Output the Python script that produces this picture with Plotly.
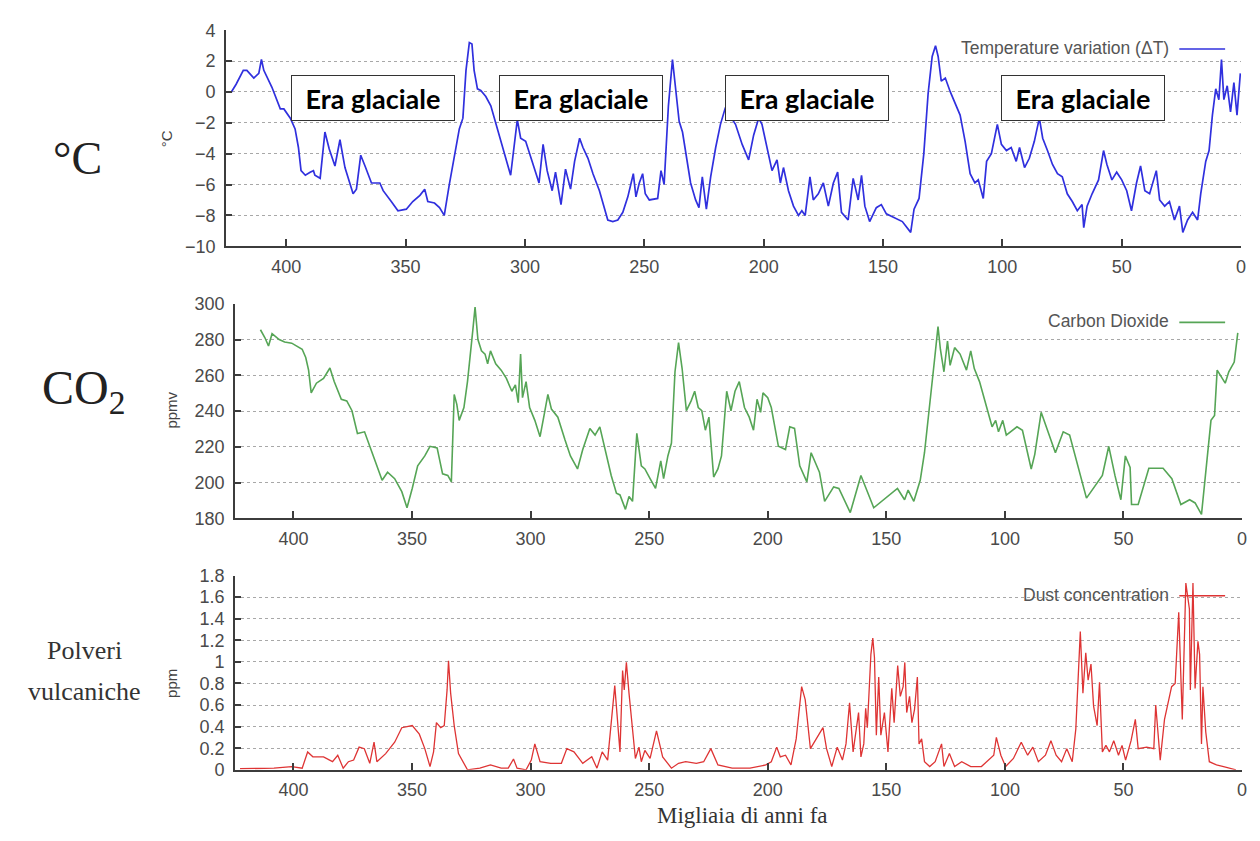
import plotly.graph_objects as go

W, H = 1260, 841

# ---------------- data ----------------
temp_age = [423, 421, 418, 416.5, 413.6, 411.5, 410.4, 409.4, 406, 402.5, 401, 398.3, 396.3, 394.9, 393.8,
            392, 390, 388.6, 388, 385.8, 383.8, 382, 379.6, 377.5, 375.4, 372, 370.6, 368.8, 367, 364.3,
            360.8, 359.4, 356, 353.2, 349.7, 347, 344, 342, 340.7, 337.9, 335.8, 333.8, 331.7, 329.6,
            327.5, 326, 324.7, 323.3, 322.2, 321.3, 319.9, 318.5, 316.4, 314.3, 311.5, 308, 306, 303.2,
            301.8, 299.7, 296.2, 294.1, 292.4, 290.7, 288.6, 287.2, 284.9, 283, 280.9, 279.2, 277.1,
            275.7, 273.6, 271.5, 268.8, 266.7, 265.3, 263.2, 261.1, 259, 256.9, 254.6, 253.5, 252.1,
            250.7, 249.6, 247.9, 244.4, 243, 241.7, 239.9, 238.2, 236.8, 235.4, 234, 232, 230.6, 228.5,
            227.1, 225.7, 224, 222.2, 220.1, 218.1, 216, 213.9, 211.8, 209, 206.3, 204.2, 202.1, 200.7,
            198.6, 196.5, 194.4, 193, 191.7, 189.6, 187.5, 185.4, 184, 182.6, 180.6, 179.2, 177.1, 175,
            172.9, 170.8, 169, 167.4, 164.6, 162.5, 160.4, 159, 157.6, 155.6, 152.8, 150.7, 148.6, 145.8,
            141.9, 138.4, 137, 134.9, 132.9, 131.1, 129.4, 128, 126.9, 125.6, 123.9, 121.8, 119.8, 117.7,
            115.6, 113.5, 111.5, 110.1, 108, 106.6, 104.6, 103.2, 102.1, 100.4, 98.3, 96.3, 94.2, 92.8,
            90.7, 88.7, 86.6, 84.5, 83.1, 81.1, 79, 76.9, 74.9, 72.8, 70.7, 68.6, 66.6, 65.9, 64.5, 62.4,
            59.7, 57.6, 56.2, 54.1, 52.1, 50, 47.9, 45.9, 43.8, 42.1, 40.3, 38.3, 35.5, 34.1, 32, 30,
            27.9, 25.8, 24.4, 22.4, 20.3, 18.2, 16.9, 14.8, 13.4, 12, 10.6, 9.3, 8.2, 7.2, 5.8, 4.4, 3.0,
            1.7, 0.3]
temp_val = [0.0, 0.5, 1.4, 1.4, 0.9, 1.2, 2.1, 1.4, 0.3, -1.1, -1.1, -1.7, -2.4, -3.6, -5.1,
            -5.4, -5.2, -5.1, -5.4, -5.6, -2.6, -3.7, -4.8, -3.1, -4.9, -6.6, -6.3, -4.1, -4.8, -5.9,
            -5.9, -6.4, -7.1, -7.7, -7.6, -7.1, -6.7, -6.3, -7.1, -7.2, -7.5, -8.0, -6.0, -4.3,
            -2.4, -1.7, 1.4, 3.2, 3.1, 1.4, 0.2, 0.1, -0.3, -0.9, -2.4, -4.3, -5.4, -1.8,
            -3.0, -3.2, -4.9, -5.9, -3.4, -5.1, -6.4, -5.2, -7.3, -5.0, -6.3, -4.5, -3.0,
            -3.6, -4.3, -5.3, -6.4, -7.6, -8.3, -8.4, -8.3, -7.8, -6.8, -5.3, -6.8, -5.9,
            -5.3, -6.6, -7.0, -6.9, -5.1, -6.0, -0.9, 2.1, 0.2, -1.9, -2.6, -4.5, -5.9, -7.0,
            -7.5, -5.5, -7.6, -5.5, -3.6, -2.1, -1.0, -1.6, -2.1, -3.4, -4.4, -2.8, -1.7, -2.1,
            -3.6, -5.1, -4.4, -5.9, -4.9, -6.4, -7.4, -8.0, -7.7, -8.0, -5.5, -7.0, -6.6, -5.9,
            -7.4, -5.9, -5.2, -7.8, -8.3, -5.6, -7.0, -5.4, -7.4, -8.4, -7.5, -7.3, -7.9, -8.1,
            -8.4, -9.1, -7.6, -6.9, -4.0, -0.1, 2.3, 3.0, 2.3, 0.7, 0.9, 0.0, -0.7, -1.5,
            -3.2, -5.3, -5.9, -5.7, -6.9, -4.5, -4.0, -2.8, -2.1, -3.4, -3.8, -3.6, -4.5, -3.6,
            -4.9, -4.3, -3.2, -1.7, -3.0, -3.8, -4.7, -5.3, -5.5, -6.6, -7.1, -7.7, -7.3, -8.8, -7.4, -6.6,
            -5.7, -3.8, -4.7, -5.7, -5.2, -5.7, -6.4, -7.7, -5.9, -4.8, -6.4, -6.6, -5.1, -7.0, -7.4, -7.1,
            -8.3, -7.4, -9.1, -8.3, -7.8, -8.3, -6.6, -4.5, -3.8, -1.5, 0.2, -0.5, 2.1, -0.5, 0.4, -1.3, 0.6,
            -1.5, 1.2]

co2_age = [413.9, 412, 410.5, 409, 406, 403.7, 400.7, 398.5, 396.3, 394.8, 393.6, 392.5, 390.3, 387.3,
           384.6, 382.8, 379.8, 377.5, 375.3, 373, 370, 367.8, 364.8, 362.6, 360.3, 357.3, 354.3, 352.1,
           349.9, 347.6, 344.6, 342.4, 339.4, 337.1, 334.9, 333.4, 332.2, 331.1, 330.1, 328.1, 326.6,
           325.1, 324.4, 323.4, 322.2, 320.7, 319.2, 318.1, 316.9, 314.7, 312.4, 310.2, 307.9, 306.4,
           305.2, 304.2, 303.4, 301.9, 300.4, 298.2, 296, 294.2, 292.7, 291.2, 288.5, 285.5, 283.2,
           280.2, 278, 275, 272.8, 270.8, 268.3, 266, 263.8, 262.3, 260, 258.5, 257, 255.2, 253.3,
           251.8, 249.6, 247.3, 245.1, 243.9, 242.1, 240.6, 239.1, 237.6, 236.1, 234.3, 232.3, 230.8,
           229.3, 227.8, 226.3, 224.8, 222.8, 221, 219.5, 217.3, 215.5, 213.8, 212, 209.8, 207.8, 206,
           204.5, 203, 202, 200, 198.5, 195.5, 192.5, 190.7, 188.7, 186.5, 183.5, 181.7, 178.2, 176,
           172.2, 170, 165.2, 160.7, 155.3, 150.5, 145.3, 142.3, 140.8, 138.4, 135.7, 133.9, 131.7,
           129.7, 128.2, 127.2, 125.7, 124.2, 123.1, 121.2, 118.9, 117.4, 116.2, 114.4, 112.9, 110.7,
           109.2, 107.2, 105.4, 103.9, 102.7, 100.9, 99.4, 94.9, 92.6, 88.9, 87.4, 84.7, 78.7, 75.4,
           72.7, 65.6, 58.9, 56.2, 53.6, 51.1, 49.2, 47.2, 46.6, 43.8, 39.3, 33.3, 29.6, 25.8, 22.1,
           19.8, 17.1, 13.1, 11.6, 10.5, 7.1, 5.6, 3.3, 1.8]
co2_val = [285.5, 281, 276.4, 283.3, 280, 278.6, 278, 276.4, 274.6, 270, 262.9, 250.2, 255.6, 258.3,
           264.1, 256.5, 246.6, 245.7, 240.2, 227.5, 228.4, 220.3, 209.4, 201.3, 205.8, 202.2, 194.9, 185.9,
           196.7, 209.4, 214.9, 220.3, 219.4, 204.9, 204, 200.4, 249.3, 243.8, 234.8, 242, 256.5,
           278.3, 284.6, 298.2, 280, 273.7, 271.9, 266.5, 273.7, 266.5, 262.9, 258.3, 251.1, 254.7,
           244.7, 271.9, 247.5, 256.5, 242, 234.8, 225.7, 238.4, 249.3, 241.1, 236.6, 223.9, 214.9,
           207.6, 218.5, 230.3, 226.6, 231.2, 216.7, 204, 194, 193.1, 185, 192.2, 189.5, 227.5, 209.4,
           207.6, 202.2, 196.7, 212.1, 202.2, 214.9, 222.1, 262, 278.3, 263.8, 240.2, 245.7, 251.1,
           242, 240.2, 229.3, 236.6, 203.1, 207.6, 214.9, 251.1, 240.2, 251.1, 256.5, 242, 236.6, 229.3,
           246.6, 239.3, 250.2, 247.5, 242, 220.3, 218.5, 231.2, 230.3, 209.4, 200.4, 216.7, 205.8, 189.5,
           197.6, 196.7, 183.2, 204, 185.9, 191.3, 196.7, 190.4, 195.8, 189.5, 201.3, 216.7, 242,
           268.3, 287.3, 274.6, 262, 279.2, 265.6, 275.5, 271.9, 267.4, 262.9, 273.7, 263.8, 256.5,
           249.3, 238.4, 231.2, 234.8, 228.4, 234.8, 226.6, 231.2, 229.3, 207.6, 215.8, 239.3, 216.7, 228.4,
           226.6, 191.3, 204, 220.3, 204, 190.4, 214.9, 208.5, 187.7, 187.7, 208, 208, 202.2, 187.7, 190.4,
           188.6, 182.2, 234.8, 237.5, 262.9, 255.6, 262, 267.4, 283.7]

dust_age = [422.5, 415.7, 408.2, 400.7, 396.3, 394, 391.8, 387.3, 383.5, 381.3, 379, 376.8, 374.6, 372.3,
            370.1, 367.8, 366, 364.8, 361.1, 357.3, 354.3, 349.9, 346.9, 344.6, 342.4, 340.9, 339.7,
            337.9, 336.4, 335.2, 334.6, 333.7, 332.2, 330.4, 326.6, 321.4, 316.9, 312.4, 309.4, 307.2,
            305.7, 301.9, 299.7, 298.2, 296, 291.5, 287, 284.7, 281.7, 278, 274.2, 272, 269.8, 267.5,
            264.5, 262.3, 261.2, 260.5, 259.6, 258.5, 257, 255.8, 254.3, 253.3, 251.8, 249.6, 246.9,
            244.3, 240.6, 237.6, 234.6, 230.1, 227, 224, 221, 215, 207.5, 200.8, 198.5, 196.2, 194.7,
            192.5, 190.2, 188, 185.7, 184.2, 182, 179.7, 176.7, 175.2, 173, 170.7, 168.5, 167, 165.5,
            164, 162.9, 161.7, 160.7, 159.5, 158.7, 158, 156.5, 155.7, 155, 154.2, 153.2, 152.3, 150.8,
            149.3, 147.7, 146.7, 145.2, 144.1, 142.9, 142.2, 141.4, 140.2, 139.2, 138.1, 136.9, 136.2,
            135.1, 133.9, 131.7, 129.4, 126.7, 125.7, 123.4, 121.2, 118.2, 114.4, 109.9, 106.9, 104.7,
            103.6, 101.7, 99.7, 96.4, 93.1, 90.4, 88.2, 85.9, 82.9, 80.6, 78.4, 76.1, 73.9, 71.6, 70.1,
            68.2, 67.1, 65.9, 64.9, 63.7, 62.6, 61.1, 60.1, 58.9, 57.4, 55.9, 54.1, 52.1, 50.6, 49.1,
            46.8, 45, 43.8, 40.2, 37.2, 36.4, 34.5, 32.7, 29.7, 28.2, 26.7, 25.2, 23.7, 22.2, 21.8, 20.7,
            19.8, 18.6, 17.9, 17.1, 16.5, 15.3, 13.8, 10.8, 7.8, 4.8, 2.6]
dust_val = [0.01, 0.01, 0.015, 0.03, 0.015, 0.165, 0.12, 0.12, 0.075, 0.135, 0.015, 0.075, 0.09, 0.21,
            0.195, 0.06, 0.256, 0.075, 0.15, 0.256, 0.39, 0.41, 0.33, 0.196, 0.03, 0.166, 0.437,
            0.39, 0.41, 0.74, 1.01, 0.71, 0.41, 0.15, 0.0, 0.015, 0.045, 0.015, 0.015, 0.1,
            0.015, 0.0, 0.09, 0.24, 0.075, 0.06, 0.06, 0.196, 0.166, 0.06, 0.12, 0.015, 0.166, 0.09,
            0.78, 0.166, 0.92, 0.74, 0.995, 0.71, 0.377, 0.105, 0.21, 0.075, 0.18, 0.105, 0.36,
            0.12, 0.015, 0.06, 0.075, 0.06, 0.075, 0.196, 0.045, 0.015, 0.015, 0.045, 0.075, 0.21, 0.12,
            0.135, 0.045, 0.286, 0.77, 0.65, 0.196, 0.286, 0.39, 0.196, 0.03, 0.21, 0.09, 0.24, 0.62,
            0.166, 0.36, 0.53, 0.12, 0.24, 0.57, 0.39, 1.07, 1.22, 1.04, 0.32, 0.86, 0.32, 0.53,
            0.166, 0.754, 0.437, 0.965, 0.68, 0.77, 0.995, 0.53, 0.68, 0.437, 0.56, 0.86, 0.24,
            0.286, 0.075, 0.03, 0.075, 0.24, 0.03, 0.15, 0.03, 0.075, 0.03, 0.03, 0.09, 0.135,
            0.3, 0.135, 0.03, 0.105, 0.256, 0.135, 0.21, 0.075, 0.135, 0.27, 0.135, 0.075, 0.196, 0.075, 0.377,
            1.28, 0.71, 1.085, 0.83, 0.98, 0.59, 0.41, 0.81, 0.166, 0.226, 0.166, 0.27, 0.135, 0.226, 0.09,
            0.27, 0.467, 0.196, 0.21, 0.196, 0.6, 0.09, 0.467, 0.77, 0.8, 1.46, 0.467, 1.73, 1.49, 0.74, 1.73,
            0.754, 1.19, 1.07, 0.24, 0.77, 0.35, 0.075, 0.045, 0.03, 0.015, 0.0]

x_ticks = [400, 350, 300, 250, 200, 150, 100, 50, 0]

series_names = ["Temperature variation (ΔT)", "Carbon Dioxide", "Dust concentration"]
unit_titles = ["°C", "ppmv", "ppm"]
glacial_label = "Era glaciale"
glacial_centres = [363.5, 276.7, 181.7, 66.3]
x_title = "Migliaia di anni fa"

# ---------------- styling ----------------
BLUE = "rgb(48,48,222)"
GREEN = "rgb(86,165,86)"
RED = "rgb(222,52,52)"
AX = "#3c3c3c"
TICKC = "#4a4a4a"
SANS = "Liberation Sans, Arial, sans-serif"
SERIF = "Liberation Serif, Times New Roman, serif"


def px_x(p):
    return p / W


def px_y(p):
    return 1 - p / H


fig = go.Figure()
fig.add_trace(go.Scatter(x=temp_age, y=temp_val, mode="lines", line=dict(color=BLUE, width=1.7),
                         xaxis="x", yaxis="y", showlegend=False))
fig.add_trace(go.Scatter(x=co2_age, y=co2_val, mode="lines", line=dict(color=GREEN, width=1.6),
                         xaxis="x2", yaxis="y2", showlegend=False))
fig.add_trace(go.Scatter(x=dust_age, y=dust_val, mode="lines", line=dict(color=RED, width=1.3),
                         xaxis="x3", yaxis="y3", showlegend=False))


def xax(domain, rng, anchor):
    return dict(domain=domain, range=rng, anchor=anchor, tickvals=x_ticks, showgrid=False,
                zeroline=False, showline=True, linecolor=AX, linewidth=2, ticks="inside",
                ticklen=7, tickwidth=2, tickcolor=AX, ticklabelstandoff=3,
                tickfont=dict(family=SANS, size=18, color=TICKC))


def yax(domain, rng, dtick, anchor):
    return dict(domain=domain, range=rng, anchor=anchor, dtick=dtick, showgrid=True,
                gridcolor="#a8a8a8", griddash="dot", gridwidth=1, zeroline=False, showline=True,
                linecolor=AX, linewidth=2, ticks="inside", ticklen=6, tickwidth=1.5, tickcolor=AX,
                ticklabelstandoff=5, tickfont=dict(family=SANS, size=18, color=TICKC))


layout = dict(
    width=W, height=H, margin=dict(l=0, r=0, t=0, b=0), paper_bgcolor="white", plot_bgcolor="white",
    xaxis=xax([px_x(227), px_x(1246)], [425.2, 0], "y"),
    yaxis=yax([px_y(242), px_y(20.7)], [-10, 4], 2, "x"),
    xaxis2=xax([px_x(236), px_x(1247)], [424.6, 0], "y2"),
    yaxis2=yax([px_y(520.7), px_y(301)], [180, 300], 20, "x2"),
    xaxis3=xax([px_x(236), px_x(1247)], [424.6, 0], "y3"),
    yaxis3=yax([px_y(778.3), px_y(579.3)], [0, 1.8], 0.2, "x3"),
)
fig.update_layout(**layout)

ann = []
# glacial boxes
for c in glacial_centres:
    ann.append(dict(x=c, y=-0.38, xref="x", yref="y", text="<b>%s</b>" % glacial_label, showarrow=False,
                    xanchor="center", yanchor="middle",
                    font=dict(family="Lato, Open Sans, sans-serif", size=27, color="black"),
                    bgcolor="white", bordercolor="#333", borderwidth=1, borderpad=1, width=160, height=42))

# in-plot legends (text left of sample line)
leg_y = [39, 319, 599]
leg_cols = [BLUE, GREEN, RED]
for name, yy in zip(series_names, leg_y):
    ann.append(dict(x=px_x(1176), y=px_y(yy), xref="paper", yref="paper", text=name, showarrow=False,
                    xanchor="right", yanchor="middle", font=dict(family=SANS, size=17.5, color="#555")))
shapes = []
for yy, col in zip(leg_y, leg_cols):
    shapes.append(dict(type="line", xref="paper", yref="paper", x0=px_x(1184), x1=px_x(1230),
                       y0=px_y(yy + 1), y1=px_y(yy + 1), line=dict(color=col, width=1.6)))

# small unit titles
for t, (xx, yy) in zip(unit_titles, [(168, 132), (172, 410), (172, 690)]):
    ann.append(dict(x=px_x(xx), y=px_y(yy), xref="paper", yref="paper", text=t, showarrow=False,
                    xanchor="center", yanchor="middle", textangle=-90,
                    font=dict(family=SANS, size=15, color="#444")))

# big left labels
big = [("°C", 78, 152, 46, "#222"), ("CO<sub>2</sub>", 84, 390, 48, "#222"),
       ("Polveri", 85, 656, 26, "#333"), ("vulcaniche", 85, 698, 26, "#333"),
       (x_title, 745, 825, 23, "#333")]
for txt, xx, yy, sz, col in big:
    ann.append(dict(x=px_x(xx), y=px_y(yy), xref="paper", yref="paper", text=txt, showarrow=False,
                    xanchor="center", yanchor="middle", font=dict(family=SERIF, size=sz, color=col)))

fig.update_layout(annotations=ann, shapes=shapes)
fig.write_html("out.html",
               post_script="document.body.style.margin='0';document.body.style.padding='0';"
                           "document.body.style.overflow='hidden';")
